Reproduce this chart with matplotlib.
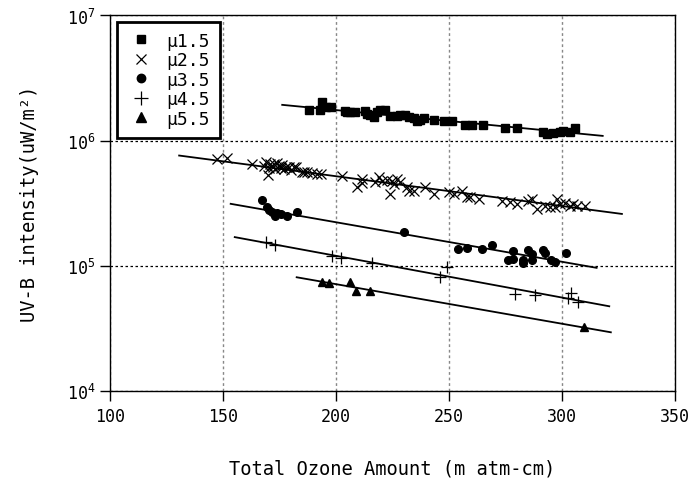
import numpy as np
import matplotlib
matplotlib.use('Agg')
import matplotlib.pyplot as plt
from matplotlib.ticker import LogLocator, NullLocator, MultipleLocator

plt.rcParams['font.family'] = ['DejaVu Sans Mono']

# mu 1.5 (squares)
x15 = [188, 192.9, 193.9, 195.4, 197.6, 204.2, 204.9, 206.4, 208.6, 213, 213.8, 215.2, 216.7, 218.2,
       219.6, 221.9, 224.1, 227, 228.5, 230.7, 232.2, 234.4, 235.8, 237.3, 238.8, 243.2, 247.6, 251.3,
       257.2, 260.1, 265, 274.8, 280, 291.8, 293.2, 296.2, 299.1, 300.6, 303.5, 305.7]
y15 = [1.76, 1.76, 2.03, 1.85, 1.85, 1.72, 1.69, 1.69, 1.69, 1.72, 1.64, 1.61, 1.54, 1.69,
       1.74, 1.76, 1.57, 1.57, 1.59, 1.59, 1.54, 1.51, 1.43, 1.46, 1.51, 1.45, 1.43, 1.43,
       1.32, 1.32, 1.34, 1.26, 1.26, 1.17, 1.13, 1.15, 1.17, 1.19, 1.17, 1.26]
y15 = [v * 1e6 for v in y15]

# mu 2.5 (crosses)
x25 = [147.2, 151.9, 163.0, 168, 169, 170, 170.5, 171, 172, 172.5, 173, 174, 174.7, 175.5, 176, 177,
       178, 179.2, 180, 181.4, 182.1, 185.1, 185.8, 187.3, 189.5, 191.7, 193.2, 202.7, 209.3, 211.6,
       211.6, 217.4, 218.9, 220.4, 222.6, 224.1, 224.8, 225.5, 227, 228.5, 231.4, 232.2, 234.4, 239.5,
       243.2, 249.8, 252, 255.7, 257.9, 259.4, 263.1, 273.4, 277, 280, 285.1, 286.6, 288.8, 292.5,
       294.7, 296.9, 297.6, 299.1, 301.3, 303.5, 305, 306.5, 310.2]
y25 = [7.14, 7.28, 6.52, 6.3, 6.7, 5.32, 6.0, 6.5, 6.2, 6.52, 5.9, 6.6, 6.31, 6.0, 6.4, 5.94,
       6.2, 6.13, 5.8, 6.13, 6.12, 5.59, 5.58, 5.59, 5.48, 5.42, 5.42, 5.16, 4.24, 4.56,
       4.94, 4.64, 5.09, 4.73, 4.85, 3.75, 4.73, 4.51, 4.94, 4.64, 4.24, 3.98, 3.98, 4.24,
       3.75, 3.86, 3.75, 3.98, 3.52, 3.52, 3.42, 3.31, 3.21, 3.12, 3.31, 3.42, 2.84, 3.02,
       2.93, 2.93, 3.42, 3.12, 3.16, 3.02, 3.12, 3.02, 3.02]
y25 = [v * 1e5 for v in y25]

# mu 3.5 (circles)
x35 = [167.1, 169.6, 170.5, 171.5, 172.8, 174, 175.5, 178.5, 182.9, 229.9, 253.9, 257.9, 264.8,
       268.9, 276.3, 278.1, 278.5, 282.6, 282.9, 284.8, 286.9, 286.9, 291.8, 292.5, 295, 296.9, 301.8]
y35 = [3.36, 2.93, 2.8, 2.67, 2.51, 2.64, 2.59, 2.51, 2.67, 1.85, 1.36, 1.39, 1.36,
       1.47, 1.10, 1.32, 1.13, 1.10, 1.04, 1.34, 1.24, 1.10, 1.34, 1.26, 1.10, 1.06, 1.26]
y35 = [v * 1e5 for v in y35]

# mu 4.5 (plus)
x45 = [168.9, 172.8, 198.3, 202, 216, 246.1, 249.1, 279.2, 288.1, 302.8, 303.8, 306.9]
y45 = [1.54, 1.47, 1.19, 1.15, 1.05, 0.817, 0.97, 0.594, 0.583, 0.548, 0.601, 0.509]
y45 = [v * 1e5 for v in y45]

# mu 5.5 (triangles)
x55 = [193.9, 197.1, 206, 209, 214.9, 309.7]
y55 = [7.36, 7.23, 7.45, 6.24, 6.24, 3.25]
y55 = [v * 1e4 for v in y55]

# regression lines (start/end)
fit_x = [(176.2, 318.0), (130.6, 326.5), (153.4, 315.3), (155.2, 320.9), (182.6, 321.6)]
fit_y = [(1.93e6, 1.09e6), (7.59e5, 2.59e5), (3.12e5, 9.6e4), (1.69e5, 4.73e4), (8.07e4, 2.93e4)]

labels = ['\u03bc1.5', '\u03bc2.5', '\u03bc3.5', '\u03bc4.5', '\u03bc5.5']

fig = plt.figure(figsize=(6.9, 4.81), dpi=100)
ax = fig.add_axes([0.1594, 0.1857, 0.8189, 0.7800])

ax.plot(x15, y15, 's', color='black', markersize=5.5, label=labels[0])
ax.plot(x25, y25, 'x', color='black', markersize=7, markeredgewidth=0.9, label=labels[1])
ax.plot(x35, y35, 'o', color='black', markersize=5.5, label=labels[2])
ax.plot(x45, y45, '+', color='black', markersize=9, markeredgewidth=0.9, label=labels[3])
ax.plot(x55, y55, '^', color='black', markersize=6, label=labels[4])

for fx, fy in zip(fit_x, fit_y):
    ax.plot(fx, fy, '-', color='black', linewidth=1.3)

ax.set_yscale('log')
ax.set_xlim(100, 350)
ax.set_ylim(1e4, 1e7)
ax.xaxis.set_major_locator(MultipleLocator(50))
ax.yaxis.set_major_locator(LogLocator(base=10, numticks=10))
ax.yaxis.set_minor_locator(NullLocator())

ax.grid(True, axis='x', color='#888888', linestyle=(0, (2, 2)), linewidth=1)
ax.grid(True, axis='y', color='black', linestyle=(0, (2, 2)), linewidth=0.9)

ax.tick_params(axis='both', which='major', direction='out', length=7, width=1,
               labelsize=12, colors='black')
ax.tick_params(axis='x', pad=5)
for s in ax.spines.values():
    s.set_linewidth(1)

ax.set_xlabel('Total Ozone Amount (m atm-cm)', fontsize=13.5, labelpad=24)
ax.set_ylabel('UV-B intensity(uW/m\u00b2)', fontsize=13.5, labelpad=20)

leg = ax.legend(loc='upper left', bbox_to_anchor=(0.012, 0.983), borderaxespad=0,
                fontsize=13, frameon=True, fancybox=False, edgecolor='black', framealpha=1,
                handletextpad=0.6, borderpad=0.55, labelspacing=0.08, handlelength=1.6,
                markerscale=1.1)
leg.get_frame().set_linewidth(2)

plt.savefig('out.png', dpi=100)
